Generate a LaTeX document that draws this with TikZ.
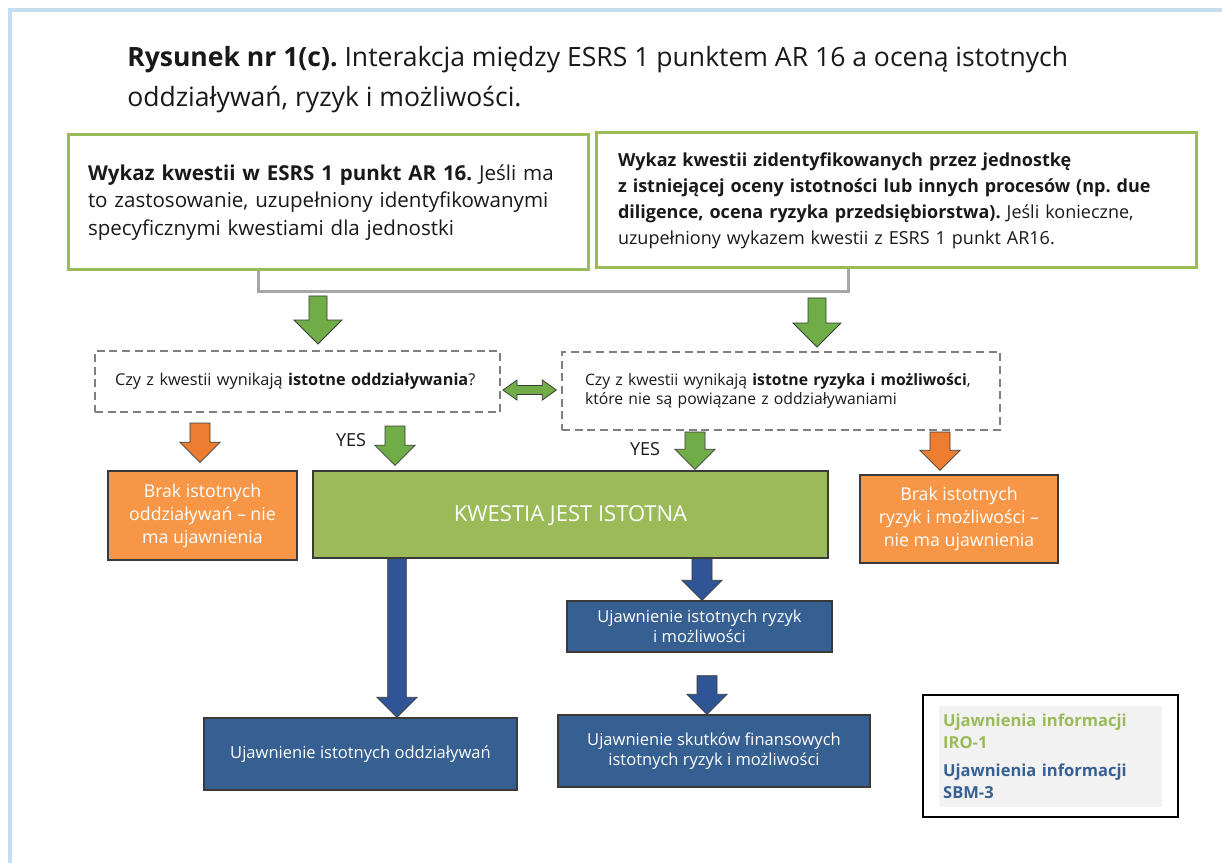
\documentclass[tikz,border=0pt]{standalone}
\usepackage{fontspec}
\setmainfont{Open Sans}
\usepackage{tikz}
\usetikzlibrary{calc,positioning}
\frenchspacing

\definecolor{frameblue}{HTML}{C6DDF0}
\definecolor{kwgreen}{HTML}{9BBB59}
\definecolor{arrgreen}{HTML}{70AD47}
\definecolor{brakorange}{HTML}{F79646}
\definecolor{arrorange}{HTML}{ED7D31}
\definecolor{ujblue}{HTML}{376092}
\definecolor{arrblue}{HTML}{2F5597}
\definecolor{linkgray}{HTML}{A6A6A6}
\definecolor{dashgray}{HTML}{7F7F7F}
\definecolor{leggray}{HTML}{F2F2F2}
\definecolor{outline}{HTML}{3A3A3A}

% block arrow pointing down: style, from, to, half shaft, half head
\newcommand{\blkdown}[5]{%
  \draw[#1] let \p1=(#2), \p2=(#3) in
    ({\x1-#4},\y1) -- ({\x1+#4},\y1) -- ({\x1+#4},{\y2+#5}) -- ({\x1+#5},{\y2+#5})
    -- (\x1,\y2) -- ({\x1-#5},{\y2+#5}) -- ({\x1-#4},{\y2+#5}) -- cycle;}

\begin{document}
\begin{tikzpicture}[x=0.75pt, y=-0.75pt,
    title/.style={anchor=north west, inner sep=0pt, align=left, text=black!90, font=\fontsize{19.9}{30}\selectfont},
    kwbox/.style={draw=kwgreen, line width=2.25pt, fill=white, minimum height=101.25pt, align=left, text=black!90},
    dqbox/.style={draw=dashgray, line width=1.5pt, dash pattern=on 6pt off 3.5pt, fill=white, align=left, text=black!90},
    brak/.style={draw=outline, line width=1pt, fill=brakorange, text=white, align=center, font=\fontsize{13.3}{17.3}\selectfont},
    istotna/.style={draw=outline, line width=1pt, fill=kwgreen, text=white, font=\fontsize{16.5}{19}\selectfont},
    ujbox/.style={draw=outline, line width=1pt, fill=ujblue, text=white, align=center, font=\fontsize{12.4}{15}\selectfont},
    yes/.style={font=\fontsize{13.5}{15}\selectfont, text=black!90},
    link/.style={draw=linkgray, line width=2.25pt},
    garr/.style={fill=arrgreen, draw=outline, line width=0.6pt},
    oarr/.style={fill=arrorange, draw=outline, line width=0.6pt},
    barr/.style={fill=arrblue, draw=outline, line width=0.6pt}
]
\useasboundingbox (0,0) rectangle (1222,863);
\fill[white] (0,0) rectangle (1222,863);
\draw[frameblue, line width=3pt] (10,863) -- (10,10) -- (1222,10);

\node[title] (tit) at (127,46) {\textbf{Rysunek nr 1(c).} Interakcja między ESRS 1 punktem AR 16 a oceną istotnych\\oddziaływań, ryzyk i możliwości.};

\node[kwbox, minimum width=390pt, text width=360pt, inner xsep=15pt, font=\fontsize{15.4}{20.5}\selectfont] (kwA) at (328,202.5)
  {\textbf{Wykaz kwestii w ESRS 1 punkt AR 16.} Jeśli ma\\to zastosowanie, uzupełniony identyfikowanymi\\specyficznymi kwestiami dla jednostki};
\node[kwbox, minimum width=450pt, text width=417pt, inner xsep=16.5pt, font=\fontsize{13.5}{19.5}\selectfont] (kwB) at (896,200.5)
  {\textbf{Wykaz kwestii zidentyfikowanych przez jednostkę}\\\textbf{z istniejącej oceny istotności lub innych procesów (np. due}\\\textbf{diligence, ocena ryzyka przedsiębiorstwa).} Jeśli konieczne,\\uzupełniony wykazem kwestii z ESRS 1 punkt AR16.};

\node[dqbox, minimum width=303.75pt, minimum height=45.75pt, text width=273.75pt, inner xsep=15pt, font=\fontsize{12.2}{14}\selectfont] (dqL) at (297.5,381.5)
  {Czy z kwestii wynikają \textbf{istotne oddziaływania}?};
\node[dqbox, minimum width=328.5pt, minimum height=58.5pt, text width=294pt, inner xsep=17.25pt, font=\fontsize{11.8}{14}\selectfont] (dqR) at (781,391)
  {Czy z kwestii wynikają \textbf{istotne ryzyka i możliwości},\\które nie są powiązane z oddziaływaniami};

\node[brak, minimum width=141.75pt, minimum height=66.75pt] (noL) at (202.5,515.5) {Brak istotnych\\oddziaływań – nie\\ma ujawnienia};
\node[istotna, minimum width=386.25pt, minimum height=65.25pt, text depth=2pt] (isT) at (570.5,514.5) {KWESTIA JEST ISTOTNA};
\node[brak, minimum width=148.5pt, minimum height=66pt] (noR) at (959,519) {Brak istotnych\\ryzyk i możliwości –\\nie ma ujawnienia};

\node[ujbox, minimum width=198.75pt, minimum height=38.25pt] (ujR) at (699.5,626.5) {Ujawnienie istotnych ryzyk\\i możliwości};
\node[ujbox, minimum width=234.75pt, minimum height=54pt] (ujL) at (360.5,754) {Ujawnienie istotnych oddziaływań};
\node[ujbox, minimum width=234pt, minimum height=54pt] (ujF) at (714,751) {Ujawnienie skutków finansowych\\istotnych ryzyk i możliwości};

\node[draw=black, line width=1pt, minimum width=191.25pt, minimum height=91.5pt] (leg) at (1050.5,756) {};
\node[fill=leggray, minimum width=167.25pt, minimum height=75.75pt, text width=161pt, inner xsep=3pt, align=left, font=\bfseries\fontsize{12.4}{16.5}\selectfont] (legT) at (leg.center)
  {\textcolor{kwgreen}{Ujawnienia informacji\\IRO-1}\\[4.5pt]\textcolor{ujblue}{Ujawnienia informacji\\SBM-3}};

\node[yes] (yesL) at (351,440) {YES};
\node[yes] (yesR) at (645,449) {YES};

\coordinate (inL) at (318,296);
\coordinate (inR) at (817,298);
\coordinate (xoL) at (200,0);
\coordinate (xyL) at (395,0);
\coordinate (xyR) at (695,0);
\coordinate (xoR) at (940,0);
\coordinate (xbL) at (397,0);
\coordinate (xbR) at (702,0);

\draw[link] ([xshift=-52.5pt]kwA.south) -- ++(0,20) -| ([xshift=-36pt]kwB.south);

\blkdown{garr}{inL}{$(inL |- dqL.north)+(0,-6)$}{6.75pt}{18pt}
\blkdown{garr}{inR}{$(inR |- dqR.north)+(0,-4)$}{6.75pt}{18pt}

\draw[garr] let \p1=([xshift=1.5pt, yshift=-6.4pt]dqL.east), \p2=([xshift=-3.5pt]dqR.west) in
  (\x1,\y1) -- ({\x1+10.5pt},{\y1+7.5pt}) -- ({\x1+10.5pt},{\y1+3.4pt}) -- ({\x2-10.5pt},{\y1+3.4pt})
  -- ({\x2-10.5pt},{\y1+7.5pt}) -- (\x2,\y1) -- ({\x2-10.5pt},{\y1-7.5pt}) -- ({\x2-10.5pt},{\y1-3.4pt})
  -- ({\x1+10.5pt},{\y1-3.4pt}) -- ({\x1+10.5pt},{\y1-7.5pt}) -- cycle;

\blkdown{oarr}{$(xoL |- dqL.south)+(0,10)$}{$(xoL |- noL.north)+(0,-8)$}{7.5pt}{15pt}
\blkdown{garr}{$(xyL |- dqL.south)+(0,13)$}{$(xyL |- isT.north)+(0,-5)$}{7.5pt}{15pt}
\blkdown{garr}{$(xyR |- dqR.south)+(0,1)$}{$(xyR |- isT.north)+(0,-1)$}{7.5pt}{15pt}
\blkdown{oarr}{$(xoR |- dqR.south)+(0,1)$}{$(xoR |- noR.north)+(0,-4)$}{7.5pt}{15pt}

\blkdown{barr}{xbL |- isT.south}{xbL |- ujL.north}{7pt}{15pt}
\blkdown{barr}{xbR |- isT.south}{xbR |- ujR.north}{7.5pt}{15pt}
\blkdown{barr}{$(xbR |- ujR.south)+(5,23)$}{$(xbR |- ujF.north)+(5,0)$}{7.5pt}{15pt}
\end{tikzpicture}
\end{document}
